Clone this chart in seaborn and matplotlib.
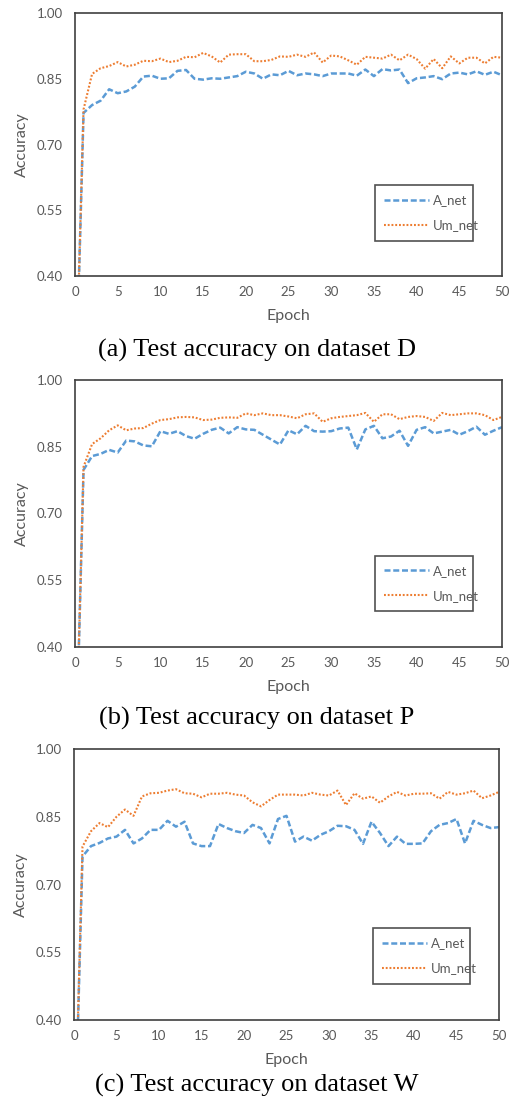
import numpy as np
import pandas as pd
import matplotlib
matplotlib.use('Agg')
import matplotlib.pyplot as plt
import seaborn as sns

# ── Data ──────────────────────────────────────────────────────────────────────
EPOCHS = list(range(0, 51))

D_A = [0.07, 0.772, 0.79, 0.80, 0.826, 0.817, 0.821, 0.832, 0.855, 0.857, 0.85,
       0.851, 0.868, 0.87, 0.85, 0.848, 0.851, 0.85, 0.853, 0.856, 0.866,
       0.862, 0.85, 0.86, 0.858, 0.868, 0.858, 0.862, 0.86, 0.856, 0.862,
       0.862, 0.862, 0.857, 0.871, 0.856, 0.872, 0.869, 0.871, 0.84, 0.851,
       0.853, 0.856, 0.849, 0.862, 0.864, 0.86, 0.867, 0.859, 0.866, 0.858]
D_U = [0.07, 0.78, 0.861, 0.874, 0.879, 0.888, 0.878, 0.882, 0.891, 0.89, 0.896,
       0.888, 0.891, 0.9, 0.899, 0.909, 0.901, 0.887, 0.905, 0.906, 0.906,
       0.89, 0.89, 0.893, 0.901, 0.9, 0.905, 0.9, 0.91, 0.887, 0.903,
       0.901, 0.892, 0.882, 0.9, 0.898, 0.896, 0.905, 0.892, 0.905, 0.895,
       0.873, 0.895, 0.874, 0.901, 0.885, 0.898, 0.898, 0.885, 0.9, 0.898]

P_A = [0.07, 0.798, 0.829, 0.834, 0.843, 0.837, 0.864, 0.862, 0.853, 0.851, 0.885,
       0.879, 0.885, 0.874, 0.868, 0.879, 0.888, 0.893, 0.88, 0.894, 0.889,
       0.888, 0.877, 0.866, 0.855, 0.887, 0.878, 0.897, 0.885, 0.884, 0.885,
       0.891, 0.893, 0.844, 0.889, 0.897, 0.869, 0.873, 0.886, 0.852, 0.888,
       0.894, 0.88, 0.884, 0.888, 0.877, 0.885, 0.895, 0.877, 0.886, 0.894]
P_U = [0.07, 0.805, 0.856, 0.869, 0.887, 0.898, 0.887, 0.891, 0.892, 0.902, 0.91,
       0.912, 0.916, 0.917, 0.916, 0.91, 0.911, 0.915, 0.916, 0.915, 0.925,
       0.921, 0.925, 0.921, 0.921, 0.918, 0.914, 0.923, 0.925, 0.906, 0.914,
       0.917, 0.919, 0.921, 0.926, 0.906, 0.923, 0.923, 0.912, 0.917, 0.919,
       0.917, 0.908, 0.926, 0.921, 0.923, 0.925, 0.925, 0.921, 0.91, 0.917]

W_A = [0.07, 0.762, 0.785, 0.792, 0.802, 0.806, 0.821, 0.791, 0.802, 0.821, 0.821,
       0.841, 0.828, 0.839, 0.791, 0.785, 0.785, 0.834, 0.825, 0.818, 0.814,
       0.832, 0.825, 0.791, 0.845, 0.852, 0.795, 0.806, 0.797, 0.81, 0.818,
       0.83, 0.829, 0.821, 0.79, 0.839, 0.814, 0.785, 0.806, 0.79, 0.79,
       0.791, 0.818, 0.832, 0.836, 0.845, 0.791, 0.841, 0.832, 0.825, 0.827]
W_U = [0.07, 0.784, 0.818, 0.836, 0.827, 0.85, 0.866, 0.852, 0.895, 0.902, 0.903,
       0.908, 0.911, 0.902, 0.901, 0.893, 0.901, 0.901, 0.903, 0.899, 0.897,
       0.882, 0.873, 0.887, 0.899, 0.899, 0.899, 0.897, 0.903, 0.899, 0.897,
       0.908, 0.876, 0.902, 0.89, 0.895, 0.881, 0.895, 0.905, 0.897, 0.901,
       0.901, 0.902, 0.89, 0.905, 0.899, 0.902, 0.908, 0.891, 0.897, 0.905]

CAPTIONS = ['(a) Test accuracy on dataset D',
            '(b) Test accuracy on dataset P',
            '(c) Test accuracy on dataset W']
PANELS = [(D_A, D_U), (P_A, P_U), (W_A, W_U)]
SERIES = ['A_net', 'Um_net']
X_TICKS = list(range(0, 51, 5))
Y_TICKS = [0.40, 0.55, 0.70, 0.85, 1.00]

BLUE = '#5B9BD5'
ORANGE = '#ED7D31'
TXT = '#595959'

sns.set_style('white')
plt.rcParams['font.family'] = ['Lato', 'DejaVu Sans']

W, H = 514, 1106
fig = plt.figure(figsize=(W / 100, H / 100), dpi=100)
fig.patch.set_facecolor('white')

# pixel boxes (left, top, right, bottom) of each plot area
BOXES = [(75, 13, 502, 276), (75, 380, 502, 647), (74, 749, 499, 1020)]
CAP_Y = [350, 718, 1085]

for (a_vals, u_vals), box, cap, cy in zip(PANELS, BOXES, CAPTIONS, CAP_Y):
    l, t, r, b = box
    ax = fig.add_axes([l / W, 1 - b / H, (r - l) / W, (b - t) / H])
    df = pd.DataFrame({'Epoch': EPOCHS, SERIES[0]: a_vals, SERIES[1]: u_vals})
    sns.lineplot(data=df, x='Epoch', y=SERIES[0], ax=ax, color=BLUE, lw=1.8,
                 linestyle=(0, (2.4, 1.1)), label=SERIES[0])
    sns.lineplot(data=df, x='Epoch', y=SERIES[1], ax=ax, color=ORANGE, lw=1.5,
                 linestyle=(0, (0.9, 0.9)), label=SERIES[1])

    ax.set_xlim(0, 50)
    ax.set_ylim(0.40, 1.00)
    ax.set_xticks(X_TICKS)
    ax.set_yticks(Y_TICKS)
    ax.set_yticklabels([f'{v:.2f}' for v in Y_TICKS])
    ax.tick_params(direction='in', length=4, width=1, colors='#404040',
                   labelcolor=TXT, labelsize=9.5, pad=7)
    ax.tick_params(axis='y', pad=9)
    for s in ax.spines.values():
        s.set_color('#404040')
        s.set_linewidth(1.2)
    ax.set_xlabel('Epoch', color=TXT, fontsize=11.5, labelpad=8)
    ax.set_ylabel('Accuracy', color=TXT, fontsize=11.5, labelpad=5)

    leg = ax.legend(loc='lower left', bbox_to_anchor=(0.703, 0.134, 0.229, 0.187),
                    mode='expand', fontsize=9.5, handlelength=3.4, handletextpad=0.3,
                    borderaxespad=0, fancybox=False, frameon=True,
                    labelspacing=1.0, borderpad=0.7)
    leg.get_frame().set_edgecolor('#262626')
    leg.get_frame().set_linewidth(1.2)
    for txt in leg.get_texts():
        txt.set_color(TXT)

    fig.text(0.5, 1 - cy / H, cap, ha='center', va='center',
             family='Liberation Serif', fontsize=19, color='black')

plt.savefig('out.png', dpi=100, facecolor='white')
plt.close()
